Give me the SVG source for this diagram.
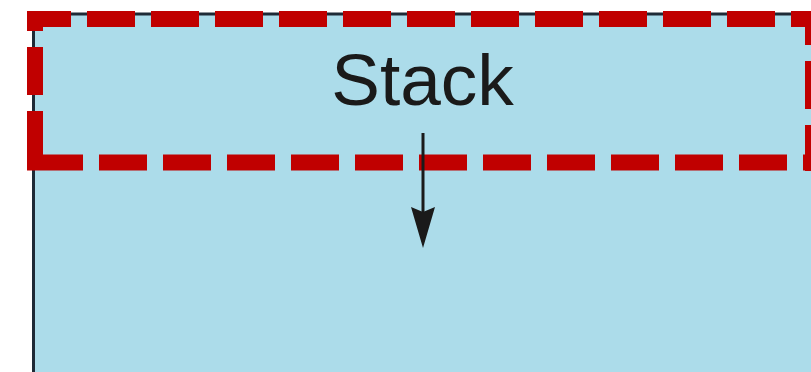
<svg xmlns="http://www.w3.org/2000/svg" width="811" height="372" viewBox="0 0 811 372">
  <style>
    .container { fill: #acdcea; stroke: #1e2a36; stroke-width: 3; }
    .hl { stroke: #c00000; stroke-width: 16; fill: none; stroke-linecap: butt; }
    .label { font-family: "Liberation Sans", Arial, Helvetica, sans-serif; font-size: 73px; fill: #1a1a1a; }
    .edge { stroke: #1a1a1a; stroke-width: 3; fill: none; }
  </style>
  <defs>
    <marker id="arrow" markerUnits="userSpaceOnUse" markerWidth="42" markerHeight="24" refX="33" refY="12" orient="auto" viewBox="0 0 42 24" overflow="visible">
      <path d="M0,0 L5,12 L0,24 L41,12 Z" fill="#1a1a1a"/>
    </marker>
  </defs>
  <rect width="811" height="372" fill="#ffffff"/>
  <g id="stack-container">
    <rect class="container" x="33.5" y="14" width="800" height="400" rx="6" ry="6"/>
  </g>
  <g id="stack-label">
    <text class="label" x="422.5" y="105" text-anchor="middle">Stack</text>
  </g>
  <g id="highlight">
    <line class="hl" x1="27" y1="19" x2="821" y2="19" stroke-dasharray="48 16" stroke-dashoffset="4"/>
    <line class="hl" x1="813" y1="11" x2="813" y2="171" stroke-dasharray="48 16" stroke-dashoffset="14"/>
    <line class="hl" x1="35" y1="11" x2="35" y2="159" stroke-dasharray="48 16" stroke-dashoffset="28"/>
    <line class="hl" x1="27" y1="162.5" x2="821" y2="162.5" stroke-dasharray="56 16 48 16 48 16 48 16 48 16 48 16 48 16 48 16 48 16 48 16 48 16 48 16 48 16 48 16"/>
  </g>
  <g id="connectors">
    <line class="edge" x1="423" y1="133" x2="423" y2="240" marker-end="url(#arrow)"/>
  </g>
</svg>
